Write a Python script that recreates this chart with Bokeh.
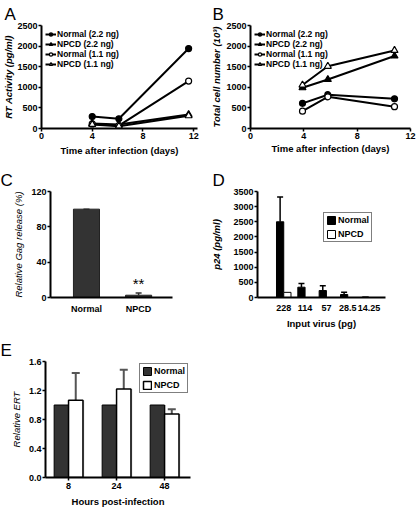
from bokeh.plotting import figure
from bokeh.layouts import column, row
from bokeh.models import (Range1d, FixedTicker, Legend, LegendItem, Whisker,
                          ColumnDataSource, Label, NumeralTickFormatter, TeeHead, Title)
from bokeh.embed import file_html
from bokeh.resources import INLINE

FONT = "Liberation Sans"

# ---------------- data ----------------
# Panel A: RT activity (pg/ml)
days_A = [4.0, 6.1, 11.6]
rtA_normal_22 = [290, 235, 1940]
rtA_npcd_22 = [120, 95, 340]
rtA_normal_11 = [110, 70, 1150]
rtA_npcd_11 = [100, 55, 310]

# Panel B: total cell number (10^3)
days_B = [3.9, 5.8, 10.8]
cellB_normal_22 = [610, 820, 720]
cellB_npcd_22 = [990, 1190, 1760]
cellB_normal_11 = [420, 770, 530]
cellB_npcd_11 = [1055, 1510, 1895]

series_labels = ["Normal (2.2 ng)", "NPCD (2.2 ng)", "Normal (1.1 ng)", "NPCD (1.1 ng)"]

# Panel C: relative Gag release (%)
cats_C = ["Normal", "NPCD"]
gag_C = [100, 2.6]
gag_err_C = [0, 2.6]

# Panel D: p24 (pg/ml) vs input virus
virus_D = ["228", "114", "57", "28.5", "14.25"]
p24_normal = [2500, 340, 230, 100, 10]
p24_normal_err = [820, 120, 160, 70, 0]
p24_npcd = [170, 0, 0, 0, 0]

# Panel E: relative ERT
hours_E = ["8", "24", "48"]
ert_normal = [1.0, 1.0, 1.0]
ert_npcd = [1.065, 1.22, 0.875]
ert_npcd_err = [0.375, 0.265, 0.065]


def base(width, height, left, top, fw, fh, xr, yr):
    p = figure(width=width, height=height, x_range=xr, y_range=yr,
               output_backend="svg", toolbar_location=None,
               min_border_left=left, min_border_right=width - left - fw,
               min_border_top=top, min_border_bottom=height - top - fh)
    p.outline_line_color = None
    p.xgrid.visible = False
    p.ygrid.visible = False
    for ax in (p.xaxis[0], p.yaxis[0]):
        ax.axis_line_width = 2
        ax.axis_line_color = "black"
        ax.major_tick_line_color = "black"
        ax.major_tick_line_width = 1.5
        ax.major_tick_in = 0
        ax.major_tick_out = 3
        ax.minor_tick_line_color = None
        ax.major_label_text_font = FONT
        ax.major_label_text_font_style = "bold"
        ax.major_label_text_font_size = "9px"
        ax.major_label_text_color = "black"
        ax.major_label_standoff = 1
        ax.axis_label_standoff = 2
        ax.axis_label_text_font = FONT
        ax.axis_label_text_font_size = "9.5px"
        ax.axis_label_text_font_style = "bold"
        ax.axis_label_text_color = "black"
    p._geom = (left, top, fw, fh)
    return p


def letter(p, txt, x_left):
    left, top, fw, fh = p._geom
    p.title = Title(text=txt, align="left", offset=x_left - left, standoff=0,
                    vertical_align="top", text_font=FONT, text_font_size="17px",
                    text_font_style="normal", text_color="black")


def line_panel(p, days, ys_list):
    styles = [("circle", "black", 6), ("triangle", "black", 7),
              ("circle", "white", 6), ("triangle", "white", 7)]
    items = []
    for lab, ys, (mk, fill, sz) in zip(series_labels, ys_list, styles):
        r1 = p.line(days, ys, line_color="black", line_width=2)
        r2 = p.scatter(days, ys, marker=mk, size=sz, fill_color=fill,
                       line_color="black", line_width=1.2)
        items.append(LegendItem(label=lab, renderers=[r1, r2]))
    leg = Legend(items=items, location="top_left", margin=4, padding=0, spacing=0,
                 glyph_width=11, glyph_height=8, label_height=8, label_standoff=1,
                 label_text_font=FONT, label_text_font_style="bold",
                 label_text_font_size="8.5px", label_text_color="black",
                 border_line_color=None, background_fill_alpha=0)
    p.add_layout(leg)


def box_legend(p, items, loc):
    p.add_layout(Legend(items=items, location=loc, padding=2, spacing=4, margin=0,
                        glyph_width=10, glyph_height=10, label_height=10, label_standoff=2,
                        label_text_font=FONT, label_text_font_style="bold",
                        label_text_font_size="9px", label_text_color="black",
                        border_line_color="black", border_line_width=1,
                        background_fill_color="white"))


# ---------------- Panel A ----------------
pA = base(208, 160, 37, 25, 160, 103, Range1d(0, 12.3), Range1d(0, 2500))
line_panel(pA, days_A, [rtA_normal_22, rtA_npcd_22, rtA_normal_11, rtA_npcd_11])
pA.xaxis.ticker = FixedTicker(ticks=[0, 4, 8, 12])
pA.yaxis.ticker = FixedTicker(ticks=[0, 500, 1000, 1500, 2000, 2500])
pA.xaxis.axis_label = "Time after infection (days)"
pA.xaxis.axis_label_standoff = 3
pA.yaxis.axis_label = "RT Activity (pg/ml)"
pA.yaxis.axis_label_standoff = 0
pA.yaxis.axis_label_text_font_style = "bold italic"
letter(pA, "A", 0)

# ---------------- Panel B ----------------
pB = base(208, 160, 40, 25, 162, 107, Range1d(0, 12.0), Range1d(0, 2500))
line_panel(pB, days_B, [cellB_normal_22, cellB_npcd_22, cellB_normal_11, cellB_npcd_11])
pB.xaxis.ticker = FixedTicker(ticks=[0, 4, 8, 12])
pB.yaxis.ticker = FixedTicker(ticks=[0, 500, 1000, 1500, 2000, 2500])
pB.xaxis.axis_label = "Time after infection (days)"
pB.xaxis.axis_label_standoff = 1
pB.yaxis.axis_label = "Total cell number (10³)"
pB.yaxis.axis_label_standoff = 1
pB.yaxis.axis_label_text_font_style = "bold italic"
letter(pB, "B", 2)

# ---------------- Panel C ----------------
xC = list(range(len(cats_C)))
pC = base(208, 178, 50, 31, 122, 123, Range1d(-0.69, 1.65), Range1d(0, 120))
pC.vbar(x=xC, top=gag_C, width=0.5, fill_color="#333333", line_color="#222222")
srcC = ColumnDataSource(dict(x=xC, lower=gag_C,
                             upper=[v + e for v, e in zip(gag_C, gag_err_C)]))
pC.add_layout(Whisker(source=srcC, base="x", lower="lower", upper="upper",
                      dimension="height", lower_head=None,
                      upper_head=TeeHead(size=6, line_width=1.5, line_color="#333333"),
                      line_width=1.5, line_color="#333333"))
pC.add_layout(Label(x=xC[1], y=gag_C[1] + gag_err_C[1], y_offset=1, text="**",
                    text_align="center", text_baseline="bottom", text_font=FONT,
                    text_font_size="15px", text_color="black"))
pC.xaxis.ticker = FixedTicker(ticks=xC)
pC.xaxis.major_label_overrides = {i: c for i, c in zip(xC, cats_C)}
pC.xaxis.major_tick_out = 0
pC.xaxis.major_label_standoff = 6
pC.yaxis.ticker = FixedTicker(ticks=[0, 40, 80, 120])
pC.yaxis.axis_label = "Relative Gag release (%)"
pC.yaxis.axis_label_standoff = 4
pC.yaxis.axis_label_text_font_style = "italic"
letter(pC, "C", 0)

# ---------------- Panel D ----------------
xD = list(range(len(virus_D)))
pD = base(208, 178, 45, 31, 132, 106, Range1d(-1.23, 4.77), Range1d(0, 3500))
xD_n = [i - 0.17 for i in xD]
xD_p = [i + 0.17 for i in xD]
rDn = pD.vbar(x=xD_n, top=p24_normal, width=0.34, fill_color="black", line_color="black")
rDp = pD.vbar(x=xD_p, top=p24_npcd, width=0.34, fill_color="white", line_color="black")
srcD = ColumnDataSource(dict(x=xD_n, lower=p24_normal,
                             upper=[v + e for v, e in zip(p24_normal, p24_normal_err)]))
pD.add_layout(Whisker(source=srcD, base="x", lower="lower", upper="upper",
                      dimension="height", lower_head=None,
                      upper_head=TeeHead(size=6, line_width=1.5),
                      line_width=1.5, line_color="black"))
pD.xaxis.ticker = FixedTicker(ticks=xD)
pD.xaxis.major_label_overrides = {i: c for i, c in zip(xD, virus_D)}
pD.xaxis.major_tick_out = 0
pD.xaxis.major_label_standoff = 7
pD.yaxis.ticker = FixedTicker(ticks=list(range(0, 3501, 500)))
pD.xaxis.axis_label = "Input virus (pg)"
pD.xaxis.axis_label_standoff = 4
pD.yaxis.axis_label = "p24 (pg/ml)"
pD.yaxis.axis_label_standoff = 8
pD.yaxis.axis_label_text_font_style = "bold italic"
box_legend(pD, [LegendItem(label="Normal", renderers=[rDn]),
                LegendItem(label="NPCD", renderers=[rDp])], (66, 55))
letter(pD, "D", 0)

# ---------------- Panel E ----------------
xE = list(range(len(hours_E)))
pE = base(208, 171, 45, 23, 145, 117, Range1d(-0.48, 2.54), Range1d(0, 1.6))
xE_n = [i - 0.15 for i in xE]
xE_p = [i + 0.15 for i in xE]
pE.vbar(x=[x + 0.025 for x in xE_n], top=ert_normal, width=0.3, fill_color="#aaaaaa", line_color=None)
pE.vbar(x=[x + 0.025 for x in xE_p], top=ert_npcd, width=0.3, fill_color="#aaaaaa", line_color=None)
rEn = pE.vbar(x=xE_n, top=ert_normal, width=0.3, fill_color="#333333", line_color="black")
rEp = pE.vbar(x=xE_p, top=ert_npcd, width=0.3, fill_color="white", line_color="black", line_width=1.5)
srcE = ColumnDataSource(dict(x=xE_p, lower=ert_npcd,
                             upper=[v + e for v, e in zip(ert_npcd, ert_npcd_err)]))
pE.add_layout(Whisker(source=srcE, base="x", lower="lower", upper="upper",
                      dimension="height", lower_head=None,
                      upper_head=TeeHead(size=8, line_width=2, line_color="#555555"),
                      line_width=2, line_color="#555555"))
pE.xaxis.ticker = FixedTicker(ticks=xE)
pE.xaxis.major_label_overrides = {i: c for i, c in zip(xE, hours_E)}
pE.xaxis.major_label_standoff = 2
pE.yaxis.ticker = FixedTicker(ticks=[0, 0.4, 0.8, 1.2, 1.6])
pE.yaxis.formatter = NumeralTickFormatter(format="0.0")
pE.xaxis.axis_label = "Hours post-infection"
pE.xaxis.axis_label_standoff = 4
pE.yaxis.axis_label = "Relative ERT"
pE.yaxis.axis_label_standoff = 4
pE.yaxis.axis_label_text_font_style = "italic"
box_legend(pE, [LegendItem(label="Normal", renderers=[rEn]),
                LegendItem(label="NPCD", renderers=[rEp])], (94, 84))
letter(pE, "E", 0)

layout = column(row(pA, pB), row(pC, pD), pE)
open("out.html", "w").write(file_html(layout, INLINE))
